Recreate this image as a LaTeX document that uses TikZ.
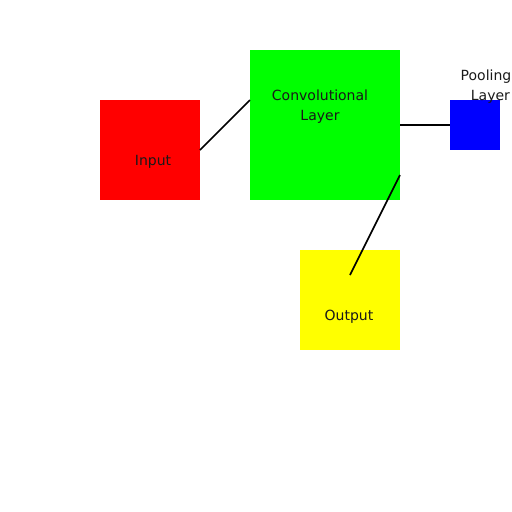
\documentclass[tikz,border=0pt]{standalone}
\usepackage{fontspec}
\setmainfont{DejaVu Sans}
\usetikzlibrary{positioning,calc}
\definecolor{inputcol}{HTML}{FF0000}
\definecolor{convcol}{HTML}{00FF00}
\definecolor{poolcol}{HTML}{0000FF}
\definecolor{outcol}{HTML}{FFFF00}

\begin{document}
\begin{tikzpicture}[
  x=1pt, y=-1pt,
  font=\fontsize{14}{20}\selectfont,
  layer/.style={inner sep=0pt, outer sep=0pt, fill=#1},
  lbl/.style={inner sep=0pt, align=center, text=black!90},
  link/.style={line width=1.6pt, draw=black},
]
\useasboundingbox (0,0) rectangle (512,512);

% ============================================================
% Blocks
% ============================================================
\node[layer=inputcol, minimum width=100pt, minimum height=100pt] (input) at (150,150) {};
\node[layer=convcol, minimum width=150pt, minimum height=150pt] (conv) at (325,125) {};
\node[layer=poolcol, minimum width=50pt, minimum height=50pt] (pool) at (475,125) {};
\node[layer=outcol, minimum width=100pt, minimum height=100pt] (output) at (350,300) {};

% Attach points
\coordinate (convin) at ($(conv.west)!0.3333!(conv.north west)$);
\coordinate (convout) at ($(conv.east)!0.6667!(conv.south east)$);
\coordinate (outin) at ($(output.north)!0.5!(output.center)$);

% ============================================================
% Connectors
% ============================================================
\draw[link] (input.east) -- (convin);
\draw[link] (conv.east) -- (pool.west);
\draw[link] (convout) -- (outin);

% ============================================================
% Labels
% ============================================================
\node[lbl] (inputlbl) at (153,162) {Input};
\node[lbl] (convlbl) at (320,107) {Convolutional\\Layer};
\node[lbl] (poollbl) at (486,87) {Pooling\\\ \ Layer};
\node[lbl] (outlbl) at (349,317) {Output};

\end{tikzpicture}
\end{document}
